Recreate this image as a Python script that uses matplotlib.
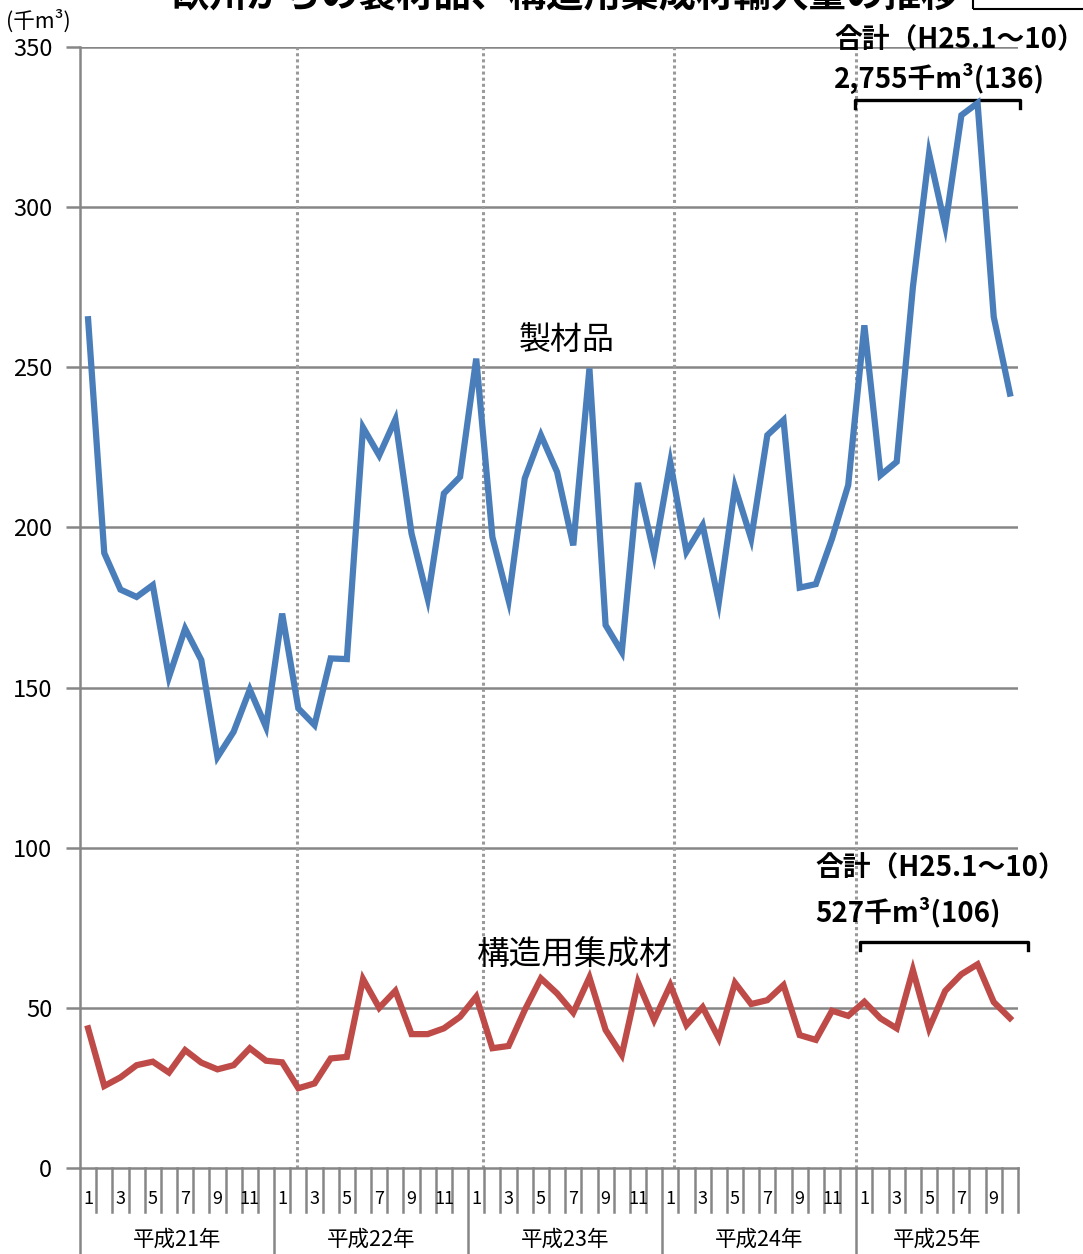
import matplotlib
matplotlib.use("Agg")
import matplotlib.pyplot as plt
from matplotlib.patches import Rectangle
import matplotlib.transforms as mtransforms

plt.rcParams['font.family'] = ['Noto Sans CJK JP', 'DejaVu Sans']

# ---- data ----
years = ['平成21年', '平成22年', '平成23年', '平成24年', '平成25年']
months_per_year = [12, 12, 12, 12, 10]
sawn = [265, 192, 180.6, 178.3, 182, 153.3, 168.4, 158.6, 128.3, 136.2, 149.4, 137.7,
        173.1, 143.5, 138.3, 159.1, 158.9, 231.2, 222.5, 233.7, 198.1, 177.8, 210.6, 215.8,
        252.7, 197, 177.3, 215.3, 228.8, 217.3, 194.4, 249.6, 169.5, 161.1, 213.9, 191.6,
        220.3, 192.4, 200.7, 176.7, 212.6, 196.5, 228.8, 233.5, 181.2, 182.3, 196.5, 213.2,
        263.1, 216.3, 220.5, 275, 316.7, 294, 328.7, 332.5, 265.7, 241.8]
glulam = [43.6, 25.6, 28.3, 32.1, 33.2, 29.8, 36.8, 32.9, 30.8, 32.1, 37.4, 33.5,
          33.0, 24.9, 26.4, 34.2, 34.7, 59, 50.0, 55.3, 41.8, 41.8, 43.6, 47.2,
          53.5, 37.4, 38.1, 49.3, 59.2, 54.5, 48.5, 59.5, 43.1, 35.3, 58, 46.2,
          57.1, 44.6, 50.2, 40.5, 57.8, 51.2, 52.4, 57.1, 41.5, 40, 49.1, 47.5,
          51.9, 46.7, 43.6, 61.8, 43.6, 55.3, 60.5, 63.6, 51.8, 46.8]
yticks = [0, 50, 100, 150, 200, 250, 300, 350]
dotted_x = [12.9, 24.4, 36.2, 47.5]

W, H = 1083, 1254
fig = plt.figure(figsize=(W / 100, H / 100), dpi=100)
L, R, T, B = 80, 1018, 47, 1168
ax = fig.add_axes([L / W, 1 - B / H, (R - L) / W, (B - T) / H])

n = len(sawn)
x = list(range(n))
ax.set_xlim(-0.5, n - 0.5)
ax.set_ylim(0, 350)

grid_c = '#868686'
for yv in yticks[1:]:
    ax.axhline(yv, color=grid_c, lw=1.8, zorder=1)
for xv in dotted_x:
    ax.axvline(xv, color='#9a9a9a', lw=2.2, ls=(0, (1, 1)), zorder=1)

ax.plot(x, sawn, color='#4A7EBB', lw=4.5, solid_joinstyle='miter', zorder=3)
ax.plot(x, glulam, color='#BE4B48', lw=4.5, solid_joinstyle='miter', zorder=3)

for s in ['top', 'right']:
    ax.spines[s].set_visible(False)
for s in ['left', 'bottom']:
    ax.spines[s].set_color(grid_c)
    ax.spines[s].set_linewidth(1.8)
ax.set_yticks(yticks)
ax.set_yticklabels([str(v) for v in yticks], fontsize=17)
ax.tick_params(axis='y', length=10, width=1.8, color=grid_c, pad=10)
ax.set_xticks([])

# category axis (months and years)
trans = mtransforms.blended_transform_factory(ax.transData, ax.transAxes)
ph = B - T
tick_bot = -(1212 - B) / ph
fig_bot = -(H - B) / ph
idx = 0
for yi, (yname, nm) in enumerate(zip(years, months_per_year)):
    start = idx
    ax.plot([start - 0.5, start - 0.5], [0, fig_bot], transform=trans, color=grid_c,
            lw=1.8, clip_on=False)
    for m in range(nm):
        if m > 0:
            ax.plot([idx - 0.5, idx - 0.5], [0, tick_bot], transform=trans, color=grid_c,
                    lw=1.8, clip_on=False)
        if m % 2 == 0:
            ax.text(idx, -(1199 - B) / ph, str(m + 1), transform=trans, ha='center',
                    va='center', fontsize=13)
        idx += 1
    ax.text((start + idx - 1) / 2, -(1240 - B) / ph, yname, transform=trans,
            ha='center', va='center', fontsize=15.5)
ax.plot([n - 0.5, n - 0.5], [0, tick_bot], transform=trans, color=grid_c, lw=1.8,
        clip_on=False)


def ftext(px, py, s, **kw):
    fig.text(px / W, 1 - py / H, s, **kw)


ftext(565, 6, '欧州からの製材品、構造用集成材輸入量の推移', ha='center', va='baseline',
      fontsize=27, fontweight='bold')
fig.patches.append(Rectangle((973 / W, 1 - 9 / H), 130 / W, 30 / H, transform=fig.transFigure,
                             fill=False, edgecolor='black', lw=1.5))
ftext(6, 21, '(千m³)', ha='left', va='center', fontsize=15.5)

ftext(567, 340, '製材品', ha='center', va='center', fontsize=23)
ftext(575, 955, '構造用集成材', ha='center', va='center', fontsize=23.5)

ftext(834, 40, '合計（H25.1～10）', ha='left', va='center', fontsize=20, fontweight='bold')
ftext(834, 78, '2,755千m³(136)', ha='left', va='center', fontsize=20, fontweight='bold')
ftext(815, 868, '合計（H25.1～10）', ha='left', va='center', fontsize=20, fontweight='bold')
ftext(815, 912, '527千m³(106)', ha='left', va='center', fontsize=20, fontweight='bold')

# brackets
ax.plot([47.4, 47.4, 57.6, 57.6], [331, 333.3, 333.3, 331], color='black', lw=2.4,
        clip_on=False)
ax.plot([47.7, 47.7, 58.1, 58.1], [68, 70.5, 70.5, 68], color='black', lw=2.4,
        clip_on=False)

fig.savefig('out.png', dpi=100)
